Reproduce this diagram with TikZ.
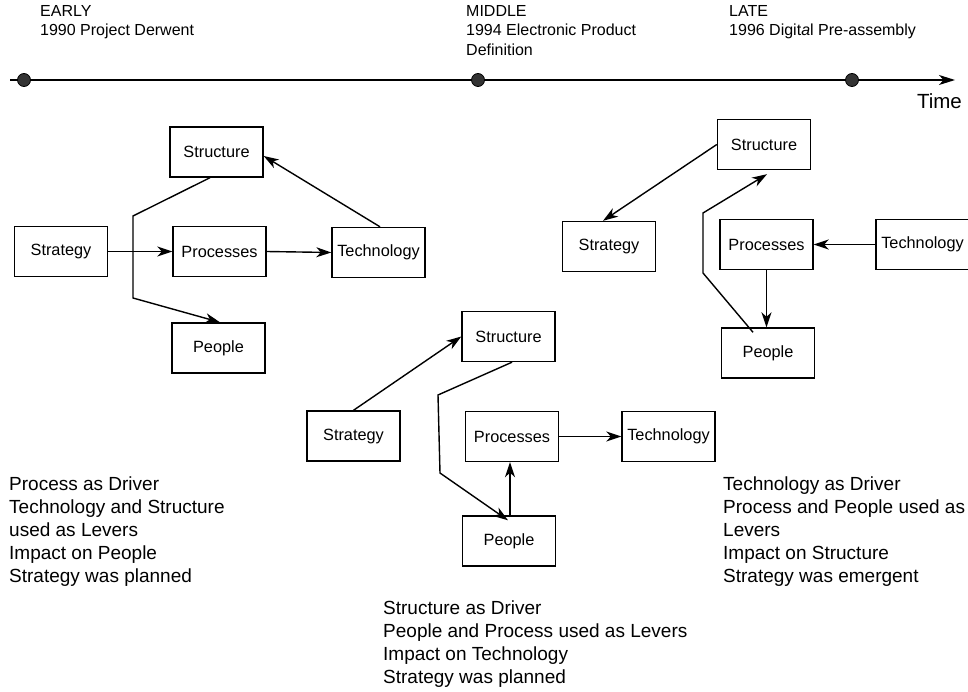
\documentclass[tikz,border=0pt]{standalone}
\usepackage{fontspec}
\setmainfont{Liberation Sans}
\usetikzlibrary{arrows.meta}
\begin{document}
\begin{tikzpicture}[x=1pt,y=-1pt,
  box/.style={draw, line width=1.4pt, minimum width=93pt, minimum height=50pt,
    inner sep=1pt, font=\fontsize{16.3}{19}\selectfont},
  arr/.style={line width=1.4pt, -{Stealth[length=15pt,width=10pt,inset=4.5pt]}},
  era/.style={anchor=north west, inner sep=0pt, align=left,
    font=\fontsize{16}{19.5}\selectfont},
  note/.style={anchor=north west, inner sep=0pt, align=left,
    font=\fontsize{19}{23}\selectfont},
  dotmark/.style={draw=black, fill=black!80, line width=0.8pt, circle,
    minimum size=13pt, inner sep=0pt}
]
\useasboundingbox (0,0) rectangle (968,692);

% time axis
\coordinate (t0) at (10,80);
\coordinate (tend) at (955,80);
\draw[line width=1.4pt, -{Stealth[length=16pt,width=10pt,inset=4.5pt]}] (t0) -- (tend);
\node[dotmark] (d1) at (24,80) {};
\node[dotmark] (d2) at (478,80) {};
\node[dotmark] (d3) at (852,80) {};
\node[anchor=base east, inner sep=0pt, font=\fontsize{20.5}{24}\selectfont] (time) at (962,109) {Time};

\node[era] (e1) at (40,5) {EARLY\\1990 Project Derwent};
\node[era] (e2) at (466,5) {MIDDLE\\1994 Electronic Product\\Definition};
\node[era] (e3) at (729,5) {LATE\\1996 Digit\textit{a}l Pre-assembly};

% early: process as driver
\node[box] (s1) at (216.5,152) {Structure};
\node[box] (st1) at (61,251.5) {Strategy};
\node[box] (pr1) at (219.5,251.5) {Processes};
\node[box] (t1) at (378.5,252.5) {Technology};
\node[box] (p1) at (218.5,348) {People};
\draw[arr] (st1.east) -- (pr1.west);
\draw[arr] (pr1.east) -- (t1.west);
\draw[arr] ([xshift=1.5pt]t1.north) -- ([yshift=-4pt]s1.east);
\coordinate (b1) at (133,216);
\coordinate (b2) at (133,298);
\draw[arr] ([xshift=-6.5pt]s1.south) -- (b1) -- (b2) -- ([xshift=1.5pt]p1.north);

% middle: structure as driver
\node[box] (s2) at (508.5,336.5) {Structure};
\node[box] (st2) at (353.5,436) {Strategy};
\node[box] (pr2) at (512,436.5) {Processes};
\node[box] (t2) at (668.5,436.5) {Technology};
\node[box] (p2) at (509,541) {People};
\draw[arr] (st2.north) -- (s2.west);
\coordinate (c1) at (438,395);
\coordinate (c2) at (440,473);
\draw[arr] ([xshift=3.5pt]s2.south) -- (c1) -- (c2) -- ([xshift=-1pt,yshift=-5pt]p2.north);
\draw[arr] ([xshift=1pt,yshift=-2pt]p2.north) -- ([xshift=1pt]p2.north |- pr2.south);
\draw[arr] (pr2.east) -- (t2.west);

% late: technology as driver
\node[box] (s3) at (764,144.5) {Structure};
\node[box] (st3) at (609,246.5) {Strategy};
\node[box] (pr3) at (766.5,244.5) {Processes};
\node[box] (t3) at (922.5,244.5) {Technology};
\node[box] (p3) at (768,353) {People};
\draw[arr] (s3.west) -- ([xshift=-6pt]st3.north);
\coordinate (g1) at (703,273);
\coordinate (g2) at (703,213);
\draw[arr] ([xshift=-15pt,yshift=-5pt]p3.north) -- (g1) -- (g2) -- ([xshift=3pt,yshift=-4pt]s3.south);
\draw[arr] (t3.west) -- (pr3.east);
\draw[arr] (pr3.south) -- (pr3.south |- p3.north);

% summaries
\node[note] (n1) at (9,477) {Process as Driver\\Technology and Structure\\used as Levers\\Impact on People\\Strategy was planned};
\node[note] (n2) at (723,477) {Technology as Driver\\Process and People used as\\Levers\\Impact on Structure\\Strategy was emergent};
\node[note] (n3) at (383,601) {Structure as Driver\\People and Process used as Levers\\Impact on Technology\\Strategy was planned};
\end{tikzpicture}
\end{document}
